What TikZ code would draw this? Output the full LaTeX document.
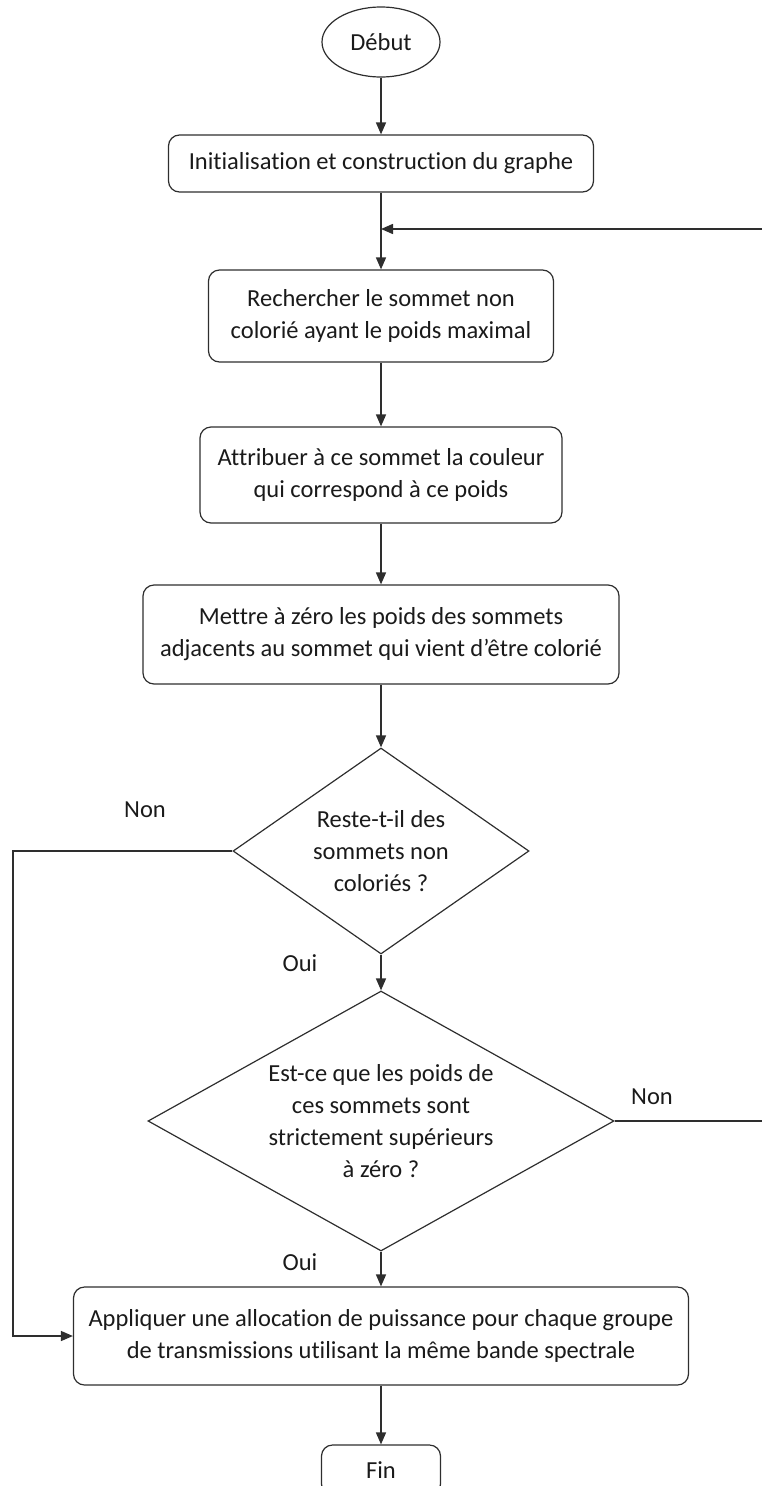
\documentclass[tikz,border=0pt]{standalone}
\usepackage{fontspec}
\setmainfont{Carlito}[Ligatures={NoCommon}]
\usetikzlibrary{shapes.geometric,arrows.meta}
\definecolor{ink}{HTML}{2E2E2E}
\definecolor{txt}{HTML}{1A1A1A}
\begin{document}
\begin{tikzpicture}[x=1pt,y=-1pt,
  every node/.style={font=\fontsize{24.5}{32}\selectfont, text=txt},
  proc/.style={draw=ink, line width=1.2pt, rounded corners=11pt, align=center, inner sep=0pt},
  terminal/.style={draw=ink, line width=1.2pt, ellipse, inner sep=0pt},
  decision/.style={draw=ink, line width=1.2pt, diamond, align=center, inner sep=0pt},
  flow/.style={draw=ink, line width=1.5pt, -{Triangle[length=12pt,width=10pt]}},
  lbl/.style={inner sep=0pt}]
\useasboundingbox (0,0) rectangle (762,1486);

% steps of the algorithm
\node[terminal, minimum width=118pt, minimum height=70pt] (debut) at (381,42) {Début};
\node[proc, minimum width=425pt, minimum height=57pt] (init) at (381,163.5)
  {Initialisation et construction du graphe};
\node[proc, minimum width=345pt, minimum height=92pt] (search) at (381,316)
  {Rechercher le sommet non\\colorié ayant le poids maximal};
\node[proc, minimum width=362pt, minimum height=96pt] (colour) at (381,475)
  {Attribuer à ce sommet la couleur\\qui correspond à ce poids};
\node[proc, minimum width=476pt, minimum height=99pt] (reset) at (381,634.5)
  {Mettre à zéro les poids des sommets\\adjacents au sommet qui vient d’être colorié};
\node[decision, shape aspect=1.44, minimum width=296pt, minimum height=206pt] (left) at (381,851)
  {Reste-t-il des\\sommets non\\coloriés ?};
\node[decision, shape aspect=1.79, minimum width=466pt, minimum height=260pt] (positive) at (381,1121)
  {Est-ce que les poids de\\ces sommets sont\\strictement supérieurs\\à zéro ?};
\node[proc, minimum width=615pt, minimum height=98pt] (power) at (381,1336)
  {Appliquer une allocation de puissance pour chaque groupe\\de transmissions utilisant la même bande spectrale};
\node[proc, minimum width=119pt, minimum height=50pt] (fin) at (381,1470) {Fin};

% branch labels
\node[lbl] (non1) at (145,810) {Non};
\node[lbl] (oui1) at (300,963) {Oui};
\node[lbl] (non2) at (652,1097) {Non};
\node[lbl] (oui2) at (300,1262) {Oui};

% helper points of the outer routes
\coordinate (loopR) at (767,229);
\coordinate (exitL) at (13,851);

% main chain
\draw[flow] (debut) -- (init);
\draw[flow] (init) -- (search);
\draw[flow] (search) -- (colour);
\draw[flow] (colour) -- (reset);
\draw[flow] (reset) -- (left);
\draw[flow] (left) -- (positive);
\draw[flow] (positive) -- (power);
\draw[flow] (power) -- (fin);

% "Non" of the first test: straight to the power allocation
\draw[flow] (left.west) -- (exitL) -- (exitL |- power.west) -- (power.west);
% "Non" of the second test: back to the search
\draw[flow] (positive.east) -- (positive.east -| loopR) -- (loopR) -- (init.south |- loopR);
\end{tikzpicture}
\end{document}
